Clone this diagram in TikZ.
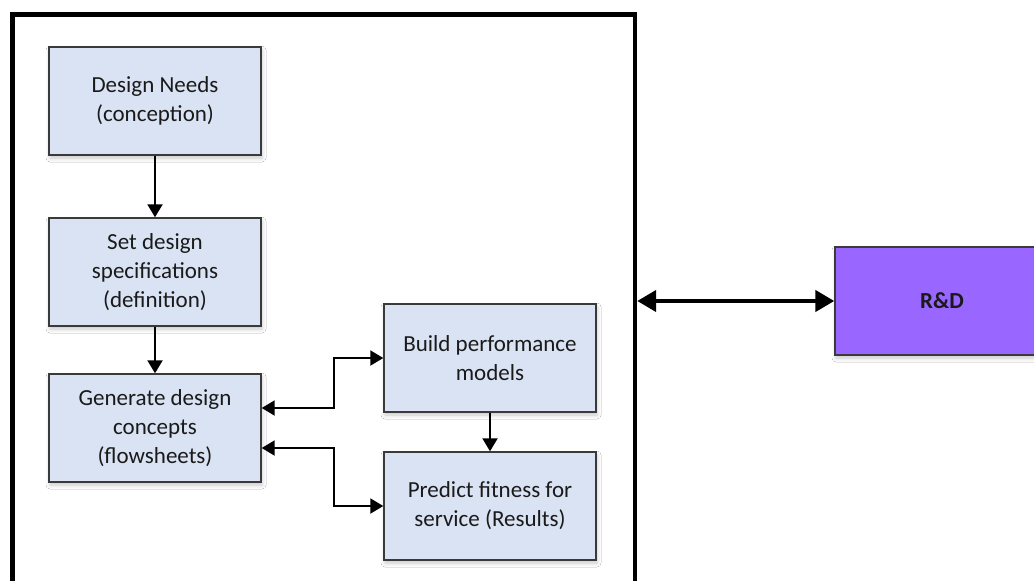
\documentclass[tikz,border=0pt]{standalone}
\usepackage{fontspec}
\setmainfont{Carlito}
\usetikzlibrary{arrows.meta,shadows.blur}
\definecolor{boxfill}{HTML}{DAE3F3}
\definecolor{boxedge}{HTML}{3A3A3A}
\definecolor{rdfill}{HTML}{9966FF}
\definecolor{ink}{HTML}{1A1A1A}
\tikzset{
  stagebox/.style={draw=boxedge, line width=1.4pt, fill=boxfill,
    minimum width=212pt, minimum height=108pt, inner sep=0pt,
    align=center, text=ink, font=\fontsize{23}{29}\selectfont,
    blur shadow={shadow xshift=1pt, shadow yshift=-3pt,
      shadow blur radius=4pt, shadow opacity=22}},
  rdbox/.style={stagebox, fill=rdfill, minimum width=214pt,
    font=\fontsize{23}{29}\selectfont\bfseries},
  flow/.style={draw=black, line width=2pt,
    -{Triangle[length=13pt,width=15pt]}},
  flowboth/.style={draw=black, line width=2pt,
    {Triangle[length=13pt,width=15pt]}-{Triangle[length=13pt,width=15pt]}},
  link/.style={draw=black, line width=4.3pt,
    {Triangle[length=19pt,width=21pt]}-{Triangle[length=19pt,width=21pt]}},
  frame/.style={draw=black, line width=4.5pt}
}
\begin{document}
\begin{tikzpicture}[x=1pt, y=-1pt]
  \useasboundingbox (0,0) rectangle (1034,581);
  \fill[white] (0,0) rectangle (1034,581);
  \clip (0,0) rectangle (1034,581);

  % enclosing design frame (runs past the lower edge)
  \draw[frame] (12.5,620) -- (12.5,14.5) -- (635,14.5) -- (635,620);

  % design stages
  \node[stagebox] (need)  at (155,101) {Design Needs\\(conception)};
  \node[stagebox] (spec)  at (155,272) {Set design\\specifications\\(definition)};
  \node[stagebox] (gen)   at (155,428) {Generate design\\concepts\\(flowsheets)};
  \node[stagebox] (build) at (490,358) {Build performance\\models};
  \node[stagebox] (pred)  at (490,506) {Predict fitness for\\service (Results)};

  % research and development
  \node[rdbox] (rd) at (942,301) {R\&D};

  % connectors
  \draw[flow] (need) -- (spec);
  \draw[flow] (spec) -- (gen);
  \draw[flow] (build) -- (pred);
  \draw[flowboth] ([yshift=20pt]gen.east) -- ++(72,0) |- (build.west);
  \draw[flowboth] ([yshift=-20pt]gen.east) -- ++(72,0) |- (pred.west);

  \coordinate (edge) at (637.2,301);
  \draw[link] (edge) -- (rd.west);
\end{tikzpicture}
\end{document}
